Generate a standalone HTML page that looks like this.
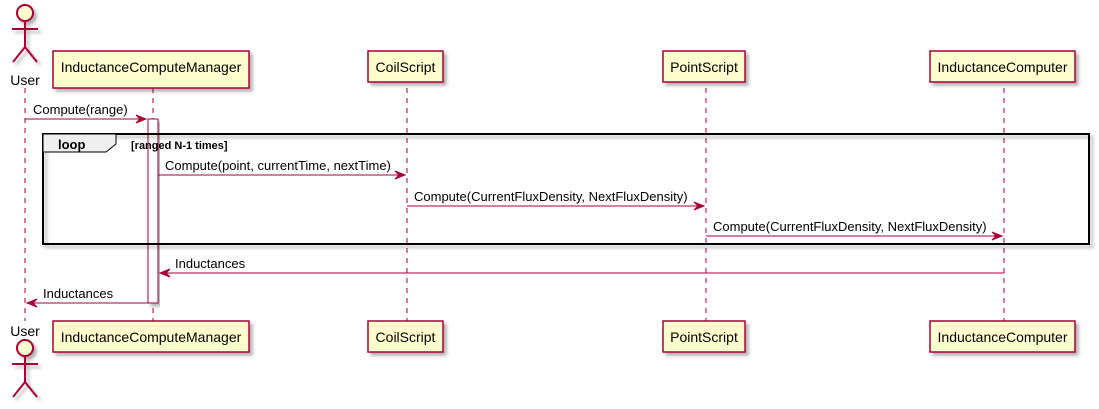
<!DOCTYPE html>
<html><head><style>html,body{margin:0;padding:0;background:#fff}svg{display:block}</style></head>
<body>
<svg width="1099" height="409" xmlns="http://www.w3.org/2000/svg" font-family="Liberation Sans, sans-serif">
<defs><filter id="sh" x="-10%" y="-10%" width="130%" height="150%"><feDropShadow dx="3" dy="3" stdDeviation="1.5" flood-color="#000" flood-opacity="0.3"/></filter></defs>
<g stroke="#A80036" stroke-width="1" stroke-dasharray="5,5" fill="none">
<line x1="25" y1="88" x2="25" y2="321"/>
<line x1="153" y1="88" x2="153" y2="321"/>
<line x1="407" y1="88" x2="407" y2="321"/>
<line x1="706" y1="88" x2="706" y2="321"/>
<line x1="1004" y1="88" x2="1004" y2="321"/>
</g>
<!-- actors -->
<g stroke="#A80036" stroke-width="2" fill="#FEFECE" filter="url(#sh)">
<circle cx="25" cy="13" r="8"/>
<path d="M25 21 V47 M12 29 H38 M25 47 L13 62 M25 47 L37 62" fill="none"/>
<circle cx="25" cy="348" r="8"/>
<path d="M25 356 V382 M12 364 H38 M25 382 L13 397 M25 382 L37 397" fill="none"/>
</g>
<g font-size="14" fill="#000">
<text x="25" y="85" text-anchor="middle">User</text>
<text x="25" y="336" text-anchor="middle">User</text>
</g>
<!-- boxes -->
<g stroke="#A80036" stroke-width="1.5" fill="#FEFECE" filter="url(#sh)">
<rect x="53" y="51" width="196" height="37"/>
<rect x="368" y="51" width="75" height="31"/>
<rect x="663" y="51" width="82" height="31"/>
<rect x="930" y="51" width="145" height="31"/>
<rect x="53" y="321" width="196" height="31"/>
<rect x="368" y="321" width="75" height="31"/>
<rect x="663" y="321" width="82" height="31"/>
<rect x="930" y="321" width="145" height="31"/>
</g>
<g font-size="14" fill="#000" text-anchor="middle">
<text x="151" y="72">InductanceComputeManager</text>
<text x="405.5" y="72">CoilScript</text>
<text x="704" y="72">PointScript</text>
<text x="1002.5" y="72">InductanceComputer</text>
<text x="151" y="342">InductanceComputeManager</text>
<text x="405.5" y="342">CoilScript</text>
<text x="704" y="342">PointScript</text>
<text x="1002.5" y="342">InductanceComputer</text>
</g>
<!-- activation -->
<rect x="148" y="119" width="10" height="184" fill="#fff" stroke="#A80036" stroke-width="1" filter="url(#sh)"/>
<!-- loop -->
<rect x="43" y="134" width="1046" height="110" fill="none" stroke="#000" stroke-width="2" filter="url(#sh)"/>
<path d="M43 134 H116 V144 L106 152 H43 Z" fill="#EEEEEE" stroke="#000" stroke-width="1"/>
<text x="58" y="149" font-size="13" font-weight="bold">loop</text>
<text x="131" y="149" font-size="11" font-weight="bold">[ranged N-1 times]</text>
<!-- messages -->
<g stroke="#A80036" stroke-width="1" fill="#A80036">
<line x1="25" y1="119" x2="146" y2="119"/><path d="M136 115 L146 119 L136 123 L140 119 Z"/>
<line x1="158" y1="175" x2="405" y2="175"/><path d="M395 171 L405 175 L395 179 L399 175 Z"/>
<line x1="407" y1="206" x2="704" y2="206"/><path d="M694 202 L704 206 L694 210 L698 206 Z"/>
<line x1="706" y1="236" x2="1002" y2="236"/><path d="M992 232 L1002 236 L992 240 L996 236 Z"/>
<line x1="160" y1="273" x2="1004" y2="273"/><path d="M170 269 L160 273 L170 277 L166 273 Z"/>
<line x1="27" y1="303" x2="148" y2="303"/><path d="M37 299 L27 303 L37 307 L33 303 Z"/>
</g>
<g font-size="13" fill="#000">
<text x="33" y="114">Compute(range)</text>
<text x="165" y="170">Compute(point, currentTime, nextTime)</text>
<text x="414" y="201">Compute(CurrentFluxDensity, NextFluxDensity)</text>
<text x="713" y="231">Compute(CurrentFluxDensity, NextFluxDensity)</text>
<text x="175" y="268">Inductances</text>
<text x="43" y="298">Inductances</text>
</g>
</svg>
</body></html>
